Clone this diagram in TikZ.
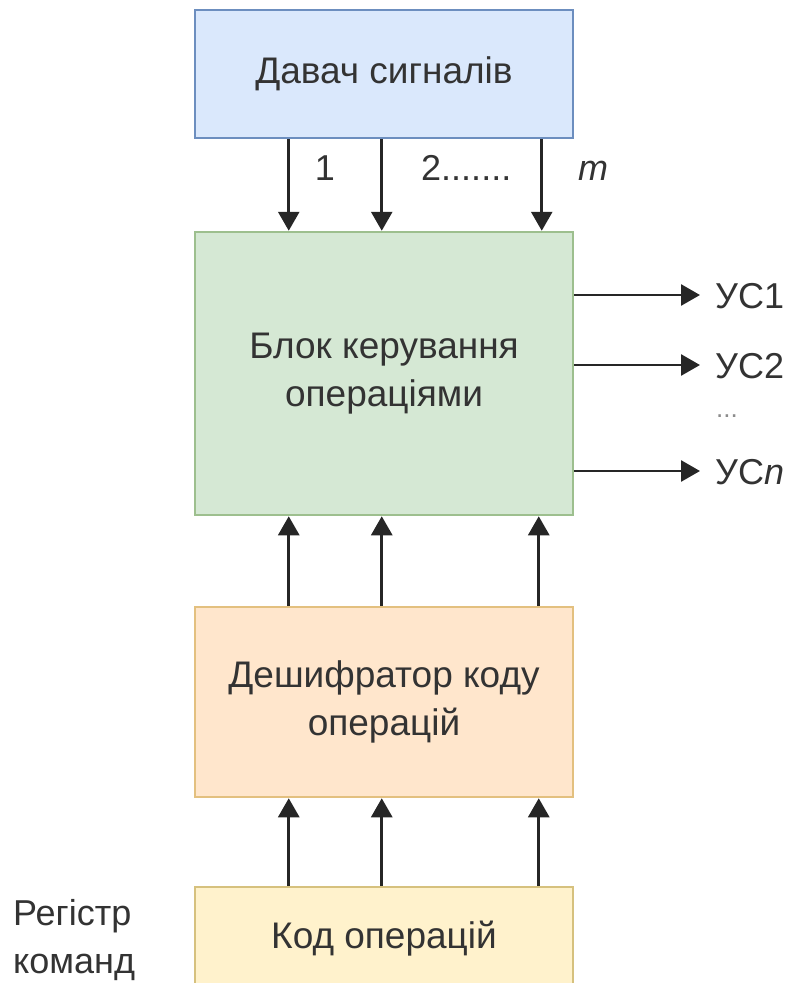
\documentclass[tikz,border=0pt]{standalone}
\usepackage{fontspec}
\setmainfont{Liberation Sans}
\usetikzlibrary{arrows.meta,calc}
\definecolor{txt}{HTML}{333333}
\definecolor{bfill}{HTML}{DAE8FC}
\definecolor{bdraw}{HTML}{6C8EBF}
\definecolor{gfill}{HTML}{D5E8D4}
\definecolor{gdraw}{HTML}{9DBF8E}
\definecolor{ofill}{HTML}{FFE6CC}
\definecolor{odraw}{HTML}{E3C07F}
\definecolor{yfill}{HTML}{FFF2CC}
\definecolor{ydraw}{HTML}{D6C17E}
\tikzset{
  box/.style={draw, line width=2.5pt, minimum width=378pt, inner sep=0pt, align=center,
    text=txt, font=\fontsize{37}{42}\selectfont},
  arr/.style={line width=2.8pt, draw=black!85, -{Triangle[width=21pt,length=19pt]}},
  lbl/.style={text=txt, font=\fontsize{36}{44}\selectfont, inner sep=0pt}
}
\begin{document}
\begin{tikzpicture}[x=1pt,y=-1pt]
\useasboundingbox (0,0) rectangle (793,983);
\clip (0,0) rectangle (793,983);
\node[box, fill=bfill, draw=bdraw, minimum height=128pt] (davach) at (384,74) {\raisebox{-3pt}{Давач сигналів}};
\node[box, fill=gfill, draw=gdraw, minimum height=283pt] (blok) at (384,373.5) {Блок керування\\[6pt]операціями};
\node[box, fill=ofill, draw=odraw, minimum height=190pt] (desh) at (384,702) {Дешифратор коду\\[6pt]операцій};
\node[box, fill=yfill, draw=ydraw, minimum height=104pt] (kod) at (384,939) {\raisebox{3pt}{Код операцій}};
% top arrows
\foreach \dx in {95,188,348}{
  \draw[arr] ($(davach.south west)+(\dx,0)$) -- ($(blok.north west)+(\dx,0)$);
}
\node[lbl, anchor=base] (l1) at (325,180) {1};
\node[lbl, anchor=base west] (l2) at (421,180) {2.......};
\node[lbl, anchor=base] (lm) at (593,180) {\itshape m};
% outputs
\coordinate (o1) at (700,295);
\coordinate (o2) at (700,365);
\coordinate (o3) at (700,471);
\draw[arr] (blok.east |- o1) -- (o1);
\draw[arr] (blok.east |- o2) -- (o2);
\draw[arr] (blok.east |- o3) -- (o3);
\node[lbl, anchor=west] (u1) at (715,296) {УС1};
\node[lbl, anchor=west] (u2) at (715,366) {УС2};
\node[lbl, anchor=west] (u3) at (715,472) {УС\textit{n}};
\node[lbl, text=black!45, font=\fontsize{26}{28}\selectfont] (dots) at (727,416) {...};
% desh -> blok
\foreach \dx in {95,188,345}{
  \draw[arr] ($(desh.north west)+(\dx,0)$) -- ($(blok.south west)+(\dx,0)$);
}
% kod -> desh
\foreach \dx in {95,188,345}{
  \draw[arr] ($(kod.north west)+(\dx,0)$) -- ($(desh.south west)+(\dx,0)$);
}
\node[lbl, align=left, anchor=west] (reg) at (13,940) {Регістр\\[4pt]команд};
\end{tikzpicture}
\end{document}
